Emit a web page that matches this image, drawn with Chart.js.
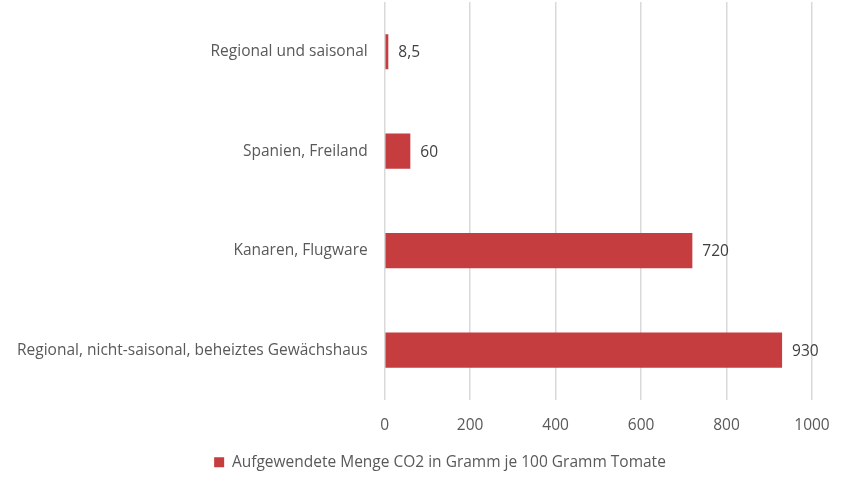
<!DOCTYPE html>
<html>
<head>
<meta charset="utf-8">
<script src="https://cdn.jsdelivr.net/npm/chart.js@4"></script>
<style>
  html, body { margin: 0; padding: 0; background: #fff; }
  #wrap { width: 850px; height: 486px; }
</style>
</head>
<body>
<div id="wrap"><canvas id="chart"></canvas></div>
<script>
const categories = [
    'Regional und saisonal',
    'Spanien, Freiland',
    'Kanaren, Flugware',
    'Regional, nicht-saisonal, beheiztes Gewächshaus',
];
const co2Values = [8.5, 60, 720, 930];
const valueLabels = ['8,5', '60', '720', '930'];
const seriesName = 'Aufgewendete Menge CO2 in Gramm je 100 Gramm Tomate';

const barLabels = {
    id: 'barLabels',
    afterDatasetsDraw(chart) {
        const ctx = chart.ctx;
        const meta = chart.getDatasetMeta(0);
        ctx.save();
        ctx.font = '15.5px "Open Sans"';
        ctx.fillStyle = '#404040';
        ctx.textAlign = 'left';
        ctx.textBaseline = 'middle';
        meta.data.forEach((bar, i) => {
            ctx.fillText(valueLabels[i], bar.x + 10, bar.y + 1);
        });
        ctx.restore();
    },
};

// the legend sits a bit right of the canvas centre in the original
const legendShift = {
    id: 'legendShift',
    afterLayout(chart) {
        chart.legend.left += 34;
        chart.legend.right += 34;
    },
};

new Chart(document.getElementById('chart'), {
    type: 'bar',
    data: {
        labels: categories,
        datasets: [
            {
                label: seriesName,
                data: co2Values,
                backgroundColor: '#C63D40',
                borderWidth: 0,
                barPercentage: 0.354,
                categoryPercentage: 1,
            },
        ],
    },
    options: {
        indexAxis: 'y',
        responsive: true,
        maintainAspectRatio: false,
        animation: false,
        layout: {
            padding: { top: 2, right: 38, bottom: 6, left: 0 },
        },
        scales: {
            x: {
                min: 0,
                max: 1000,
                ticks: {
                    stepSize: 200,
                    padding: 16,
                    color: '#595959',
                    font: { family: 'Open Sans', size: 15.5 },
                    callback: (v) => String(v),
                },
                grid: { color: '#d9d9d9', lineWidth: 1.5, drawTicks: false },
                border: { display: false },
                afterFit: (scale) => {
                    scale.paddingLeft = 0;
                    scale.paddingRight = 0;
                },
            },
            y: {
                ticks: {
                    padding: 17,
                    color: '#595959',
                    font: { family: 'Open Sans', size: 15.5 },
                },
                grid: { display: false, drawTicks: false },
                border: { display: false },
                afterFit: (scale) => {
                    scale.paddingTop = 0;
                    scale.paddingBottom = 0;
                },
            },
        },
        plugins: {
            legend: {
                position: 'bottom',
                labels: {
                    usePointStyle: true,
                    pointStyle: 'rect',
                    boxWidth: 10,
                    boxHeight: 10,
                    padding: 4,
                    color: '#595959',
                    font: { family: 'Open Sans', size: 15.5 },
                },
            },
            tooltip: { enabled: false },
        },
    },
    plugins: [barLabels, legendShift],
});
</script>
</body>
</html>
